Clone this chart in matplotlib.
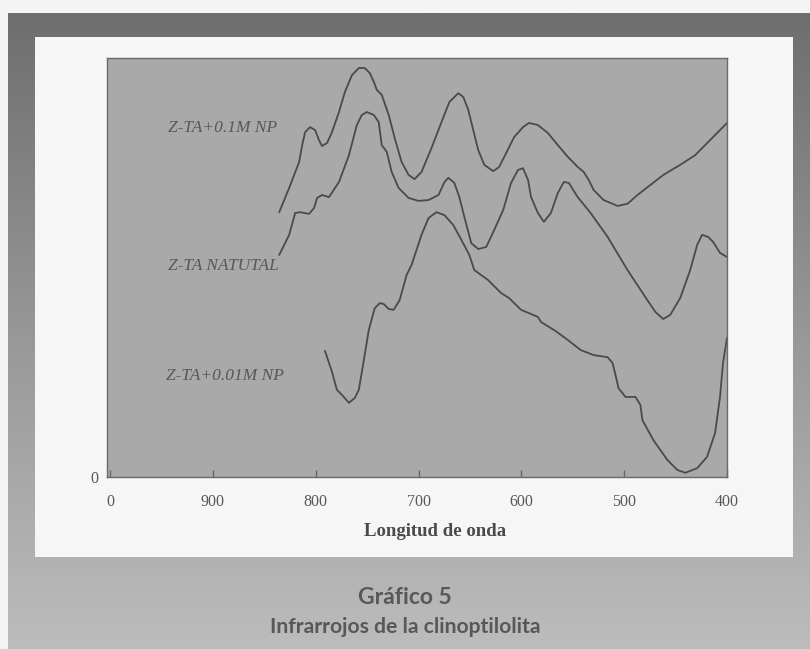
import numpy as np
import matplotlib
matplotlib.use("Agg")
import matplotlib.pyplot as plt
from matplotlib.patches import Rectangle
from matplotlib.colors import LinearSegmentedColormap

# wavelength axis ticks
x_ticks = [1000, 900, 800, 700, 600, 500, 400]
x_tick_labels = ["0", "900", "800", "700", "600", "500", "400"]

# Z-TA+0.1M NP (top curve)
wl_01 = [835.5, 825.8, 816.1, 813.2, 810.3, 805.5, 800.6, 796.8, 793.9, 789.0, 784.2,
         777.4, 771.6, 764.8, 758.1, 752.3, 747.4, 743.5, 740.6, 735.8, 729.0, 723.2,
         716.5, 709.7, 703.9, 697.1, 687.4, 677.7, 670.0, 661.3, 656.5, 651.6, 646.8,
         641.9, 636.1, 627.4, 621.6, 614.8, 607.1, 598.4, 592.6, 583.9, 574.2, 564.5,
         554.8, 545.2, 539.4, 534.5, 529.7, 520.0, 506.5, 496.8, 487.1, 474.5, 461.9,
         445.5, 431.0, 416.5, 406.8, 400.0]
ab_01 = [63.2, 69.0, 75.2, 79.2, 82.3, 83.5, 82.8, 80.4, 79.0, 79.7, 82.3,
         87.1, 91.9, 95.9, 97.6, 97.6, 96.4, 94.3, 92.4, 91.2, 86.4, 80.9,
         75.2, 72.1, 71.1, 72.8, 78.5, 84.7, 89.5, 91.6, 90.7, 87.6, 82.8,
         78.0, 74.5, 73.0, 74.0, 77.3, 81.1, 83.5, 84.5, 84.0, 82.1, 79.2,
         76.4, 74.0, 72.8, 70.9, 68.5, 66.1, 64.7, 65.2, 67.3, 69.7, 72.1,
         74.5, 76.8, 80.4, 82.8, 84.5]

# Z-TA natural (middle curve)
wl_nat = [835.5, 825.8, 820.0, 815.2, 806.5, 801.6, 798.7, 793.9, 787.1, 777.4, 767.7,
          760.0, 755.2, 750.3, 743.5, 738.7, 735.8, 730.9, 726.1, 719.4, 709.7, 700.0,
          690.3, 680.6, 674.8, 671.0, 665.2, 660.3, 655.5, 648.7, 641.9, 634.2, 626.5,
          617.7, 610.0, 603.2, 598.4, 593.5, 590.6, 583.9, 578.1, 571.3, 564.5, 558.7,
          553.9, 545.2, 532.6, 516.1, 496.8, 477.4, 469.7, 462.0, 455.2, 445.5, 435.8,
          429.0, 424.2, 418.4, 413.5, 406.8, 400.0]
ab_nat = [53.0, 57.8, 63.0, 63.2, 62.8, 64.2, 66.6, 67.3, 66.8, 70.4, 76.8,
          84.0, 86.4, 87.1, 86.4, 84.7, 79.2, 77.6, 72.8, 69.0, 66.6, 65.9,
          66.1, 67.3, 70.4, 71.4, 70.2, 66.8, 62.1, 55.8, 54.4, 54.9, 58.9,
          63.7, 70.2, 73.3, 73.7, 70.9, 66.8, 63.0, 60.9, 63.0, 67.8, 70.4,
          70.2, 66.8, 63.0, 57.3, 49.4, 42.2, 39.4, 37.7, 38.7, 42.7, 49.4,
          55.4, 57.8, 57.3, 56.1, 53.5, 52.5]

# Z-TA+0.01M NP (bottom curve)
wl_001 = [791.0, 784.2, 779.4, 774.5, 767.7, 761.9, 758.1, 753.2, 748.4, 742.6, 737.7,
          733.9, 729.0, 724.2, 718.4, 711.6, 706.8, 697.1, 690.3, 682.6, 674.8, 666.1,
          658.4, 650.6, 645.8, 632.3, 619.7, 611.9, 600.3, 583.9, 580.9, 566.5, 554.8,
          542.3, 529.7, 516.1, 511.3, 508.4, 505.5, 498.7, 489.0, 484.2, 482.3, 471.6,
          458.1, 448.4, 440.6, 429.0, 419.4, 411.6, 406.8, 403.9, 400.0]
ab_001 = [30.1, 25.1, 20.8, 19.6, 17.7, 18.9, 20.8, 27.9, 35.1, 40.3, 41.5,
          41.3, 40.1, 39.9, 42.2, 48.2, 50.6, 57.8, 61.8, 63.2, 62.5, 60.1,
          56.6, 53.0, 49.4, 47.0, 43.9, 42.7, 39.9, 38.2, 37.0, 34.8, 32.7,
          30.3, 29.1, 28.6, 27.2, 24.3, 21.2, 19.1, 19.1, 17.2, 13.6, 8.8,
          4.1, 1.7, 1.0, 2.1, 4.8, 10.5, 19.1, 27.2, 33.2]

W, H = 810, 649
fig = plt.figure(figsize=(W / 100, H / 100), dpi=100)
fig.patch.set_facecolor("#f4f4f4")

# page background: gray frame with vertical gradient and white inner panel
bg = fig.add_axes([0, 0, 1, 1])
bg.set_xlim(0, W)
bg.set_ylim(H, 0)
bg.axis("off")
grad = np.linspace(0, 1, 256).reshape(-1, 1)
cmap = LinearSegmentedColormap.from_list("g", ["#6e6e6e", "#979797", "#bcbcbc"])
bg.imshow(grad, cmap=cmap, extent=[8, W, H, 13], aspect="auto")
bg.add_patch(Rectangle((35, 37), 758, 520, facecolor="#f6f6f6", edgecolor="none"))

txt = "#585858"
serif = "Liberation Serif"

ax = fig.add_axes([107 / W, 1 - 477 / H, 620 / W, 419 / H])
ax.set_facecolor("#a9a9a9")
for wl, ab in [(wl_01, ab_01), (wl_nat, ab_nat), (wl_001, ab_001)]:
    ax.plot(wl, ab, color="#4a4a4a", lw=1.3, solid_joinstyle="round", solid_capstyle="round")
ax.set_xlim(1003, 400)
ax.set_ylim(0, 100)

ax.set_xticks(x_ticks)
ax.set_xticklabels(x_tick_labels, family=serif, fontsize=11.5, color=txt)
ax.set_yticks([0])
ax.set_yticklabels(["0"], family=serif, fontsize=11.5, color=txt)
ax.tick_params(axis="x", direction="in", length=5, width=1, color="#666666", pad=12)
ax.tick_params(axis="y", length=0, pad=6)
for s in ax.spines.values():
    s.set_color("#6a6a6a")
    s.set_linewidth(1)

# curve labels
lab = dict(transform=ax.transAxes, ha="center", va="center", family=serif,
           style="italic", fontsize=12.5, color=txt)
ax.text(0.187, 0.834, "Z-TA+0.1M NP", **lab)
ax.text(0.187, 0.504, "Z-TA NATUTAL", **lab)
ax.text(0.19, 0.24, "Z-TA+0.01M NP", **lab)

fig.text(435 / W, 1 - 531 / H, "Longitud de onda", ha="center", va="center",
         family=serif, weight="bold", fontsize=13.5, color="#4a4a4a")

fig.text(405 / W, 1 - 597 / H, "Gráfico 5", ha="center", va="center",
         family="Lato", weight="bold", fontsize=16.5, color=txt)
fig.text(405 / W, 1 - 627 / H, "Infrarrojos de la clinoptilolita", ha="center", va="center",
         family="Lato", weight="bold", fontsize=15.2, color=txt)

fig.savefig("out.png", dpi=100)
